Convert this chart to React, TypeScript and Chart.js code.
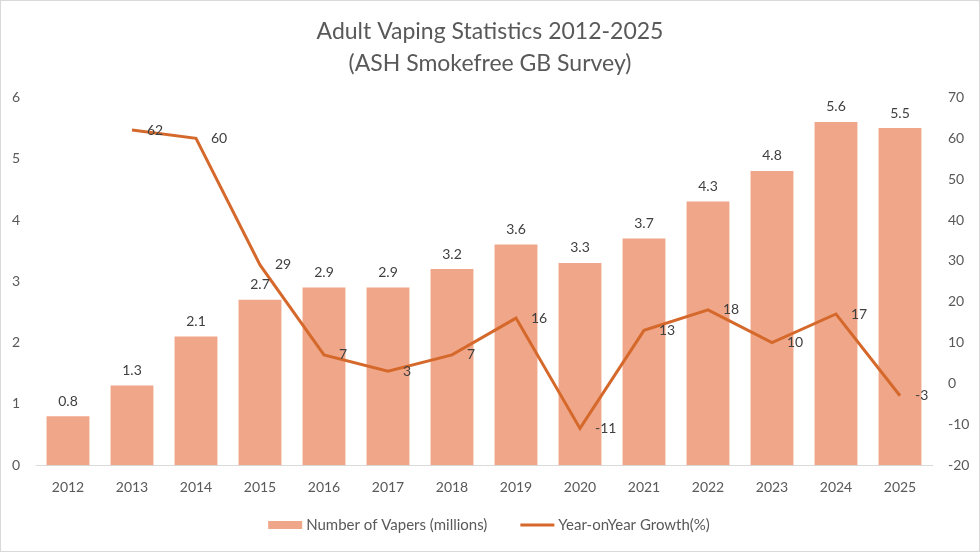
import React, { useEffect, useRef } from 'react'
import { Chart, registerables, Plugin } from 'chart.js'

Chart.register(...registerables)

const years = ['2012', '2013', '2014', '2015', '2016', '2017', '2018', '2019', '2020', '2021', '2022', '2023', '2024', '2025']
const vapers = [0.8, 1.3, 2.1, 2.7, 2.9, 2.9, 3.2, 3.6, 3.3, 3.7, 4.3, 4.8, 5.6, 5.5]
const growth = [null, 62, 60, 29, 7, 3, 7, 16, -11, 13, 18, 10, 17, -3]
const titleLines = ['Adult Vaping Statistics 2012-2025', '(ASH Smokefree GB Survey)']

const FONT = 'Lato, "Open Sans", sans-serif'
const BAR_COLOR = '#F0A688'
const LINE_COLOR = '#D5692C'

// value labels above the bars and to the right of the line points
const valueLabels: Plugin = {
  id: 'valueLabels',
  afterDatasetsDraw(chart) {
    const ctx = chart.ctx
    ctx.save()
    ctx.font = `14px ${FONT}`
    ctx.fillStyle = '#404040'

    const bars = chart.getDatasetMeta(0)
    bars.data.forEach((el: any, i) => {
      ctx.textAlign = 'center'
      ctx.textBaseline = 'bottom'
      ctx.fillText(String(vapers[i]), el.x, el.y - 8)
    })

    const line = chart.getDatasetMeta(1)
    line.data.forEach((el: any, i) => {
      const v = growth[i]
      if (v === null) return
      ctx.textAlign = 'left'
      ctx.textBaseline = 'middle'
      ctx.fillText(String(v), el.x + 15, el.y)
    })
    ctx.restore()
  },
}

// legend drawn by hand so the gap between the two entries matches the original
const bottomLegend: Plugin = {
  id: 'bottomLegend',
  afterDraw(chart) {
    const ctx = chart.ctx
    const ds = chart.data.datasets
    ctx.save()
    ctx.font = `15px ${FONT}`
    ctx.textBaseline = 'middle'
    ctx.textAlign = 'left'
    const w1 = ctx.measureText(String(ds[0].label)).width
    const w2 = ctx.measureText(String(ds[1].label)).width
    const swatch = 34
    const textGap = 4
    const itemGap = 33
    const total = swatch + textGap + w1 + itemGap + swatch + textGap + w2
    let x = chart.width / 2 - total / 2 - 1
    const y = 524

    ctx.fillStyle = BAR_COLOR
    ctx.fillRect(x, y - 4, swatch, 8)
    x += swatch + textGap
    ctx.fillStyle = '#595959'
    ctx.fillText(String(ds[0].label), x, y)
    x += w1 + itemGap

    ctx.strokeStyle = LINE_COLOR
    ctx.lineWidth = 3
    ctx.beginPath()
    ctx.moveTo(x, y)
    ctx.lineTo(x + swatch, y)
    ctx.stroke()
    x += swatch + textGap
    ctx.fillText(String(ds[1].label), x, y)
    ctx.restore()
  },
}

export default function App() {
  const canvasRef = useRef<HTMLCanvasElement>(null)
  const chartRef = useRef<Chart | null>(null)

  useEffect(() => {
    if (!canvasRef.current) return
    if (chartRef.current) chartRef.current.destroy()

    chartRef.current = new Chart(canvasRef.current, {
      type: 'bar',
      data: {
        labels: years,
        datasets: [
          {
            type: 'bar',
            label: 'Number of Vapers (millions)',
            data: vapers,
            backgroundColor: BAR_COLOR,
            barPercentage: 0.67,
            categoryPercentage: 1,
            yAxisID: 'y',
            order: 2,
          },
          {
            type: 'line',
            label: 'Year-onYear Growth(%)',
            data: growth,
            borderColor: LINE_COLOR,
            backgroundColor: LINE_COLOR,
            borderWidth: 3,
            pointRadius: 0,
            tension: 0,
            yAxisID: 'y1',
            order: 1,
          },
        ],
      },
      options: {
        responsive: true,
        maintainAspectRatio: false,
        animation: false,
        layout: { padding: { left: 0, right: 0, top: 0, bottom: 41 } },
        plugins: {
          title: {
            display: true,
            text: titleLines,
            color: '#595959',
            font: { family: FONT, size: 23, weight: 'normal', lineHeight: 1.4 },
            padding: { top: 14, bottom: 18 },
          },
          legend: { display: false },
          tooltip: { enabled: false },
        },
        scales: {
          x: {
            grid: { display: false, drawTicks: false },
            border: { display: true, color: '#D9D9D9', width: 1 },
            ticks: { color: '#595959', font: { family: FONT, size: 14 }, padding: 14 },
          },
          y: {
            position: 'left',
            min: 0,
            max: 6,
            grid: { display: false, drawTicks: false },
            border: { display: false },
            ticks: { stepSize: 1, color: '#595959', font: { family: FONT, size: 14 }, padding: 16 },
            afterFit: (scale) => {
              scale.width = 35
            },
          },
          y1: {
            position: 'right',
            min: -20,
            max: 70,
            grid: { display: false, drawTicks: false },
            border: { display: false },
            ticks: { stepSize: 10, color: '#595959', font: { family: FONT, size: 14 }, padding: 16 },
            afterFit: (scale) => {
              scale.width = 47
            },
          },
        },
      },
      plugins: [valueLabels, bottomLegend],
    })

    return () => {
      if (chartRef.current) {
        chartRef.current.destroy()
        chartRef.current = null
      }
    }
  }, [])

  return (
    <div
      style={{
        position: 'fixed',
        left: 0,
        top: 0,
        width: 980,
        height: 552,
        boxSizing: 'border-box',
        border: '1px solid #D9D9D9',
        background: '#fff',
      }}
    >
      <canvas ref={canvasRef}></canvas>
    </div>
  )
}
